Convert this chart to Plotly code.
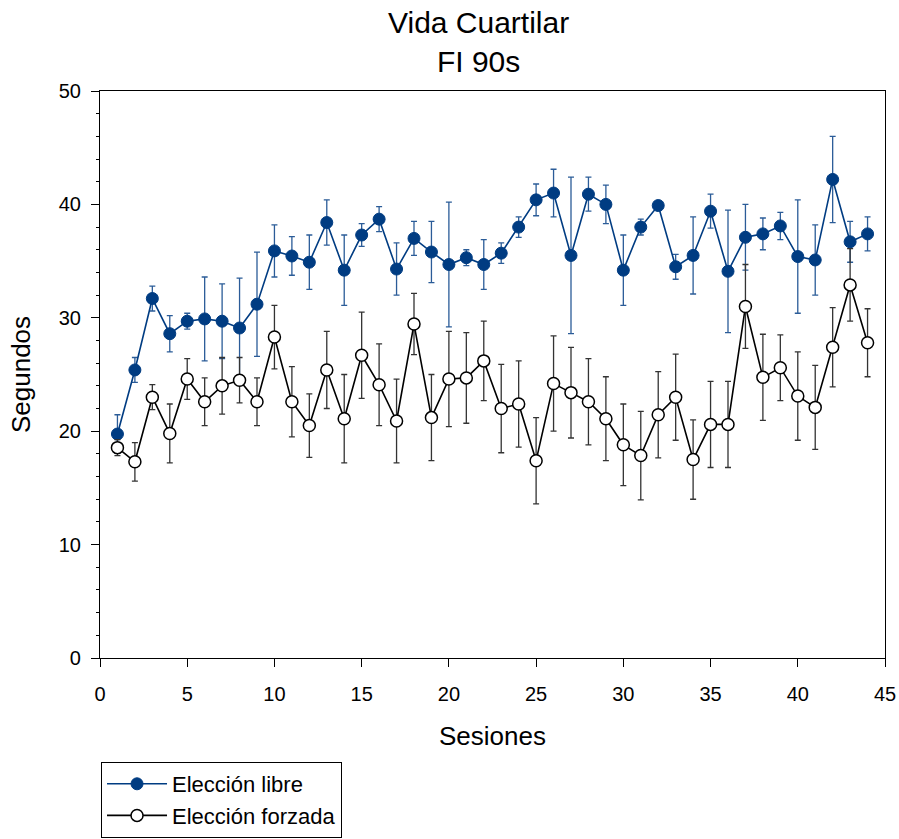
import plotly.graph_objects as go

sesiones = list(range(1, 45))

libre = [19.75, 25.4, 31.7, 28.6, 29.7, 29.9, 29.7, 29.1, 31.2, 35.9,
         35.45, 34.9, 38.4, 34.2, 37.3, 38.7, 34.3, 37.0, 35.8, 34.7,
         35.3, 34.7, 35.7, 38.0, 40.4, 41.0, 35.5, 40.9, 40.0, 34.2,
         38.0, 39.9, 34.5, 35.5, 39.4, 34.1, 37.1, 37.4, 38.1, 35.4,
         35.1, 42.2, 36.7, 37.4]
libre_err = [1.7, 1.1, 1.1, 1.6, 0.7, 3.7, 3.3, 4.4, 4.6, 2.3,
             1.7, 2.4, 2.0, 3.1, 1.0, 1.1, 2.3, 1.5, 2.7, 5.5,
             0.7, 2.2, 0.9, 0.9, 1.4, 2.1, 6.9, 1.5, 1.7, 3.1,
             0.7, 0.3, 1.1, 3.4, 1.5, 5.4, 2.9, 1.4, 1.2, 5.0,
             3.1, 3.8, 1.8, 1.5]

forzada = [18.55, 17.3, 23.0, 19.8, 24.6, 22.6, 24.0, 24.5, 22.6, 28.3,
           22.6, 20.5, 25.4, 21.1, 26.7, 24.1, 20.9, 29.45, 21.2, 24.6,
           24.7, 26.2, 22.0, 22.4, 17.4, 24.2, 23.4, 22.6, 21.1, 18.8,
           17.85, 21.45, 23.0, 17.5, 20.6, 20.6, 31.0, 24.75, 25.6, 23.1,
           22.1, 27.4, 32.9, 27.8]
forzada_err = [0.7, 1.7, 1.1, 2.6, 1.8, 2.1, 2.5, 2.0, 2.1, 2.8,
               3.1, 2.8, 3.4, 3.9, 3.8, 3.6, 3.7, 2.7, 3.8, 4.2,
               4.0, 3.5, 3.9, 3.8, 3.8, 4.2, 4.0, 3.8, 3.7, 3.6,
               3.9, 3.8, 3.8, 3.5, 3.8, 3.8, 3.7, 3.8, 2.9, 3.9,
               3.7, 3.5, 3.2, 3.0]

title_lines = ["Vida Cuartilar", "FI 90s"]

FONT = "Liberation Sans, Arial, sans-serif"
BLUE = "#003c82"

fig = go.Figure()
fig.add_trace(go.Scatter(
    x=sesiones, y=libre, name="Elección libre", mode="lines+markers",
    line=dict(color=BLUE, width=1.6),
    marker=dict(color=BLUE, size=12, line=dict(color=BLUE, width=1)),
    error_y=dict(type="data", array=libre_err, color="#2b5c98", thickness=1.3, width=3),
))
fig.add_trace(go.Scatter(
    x=sesiones, y=forzada, name="Elección forzada", mode="lines+markers",
    line=dict(color="black", width=1.6),
    marker=dict(color="white", size=12, line=dict(color="black", width=1.5)),
    error_y=dict(type="data", array=forzada_err, color="#333333", thickness=1.3, width=3),
))

PLOT_TOP, PLOT_BOTTOM = 91, 658
PH = PLOT_BOTTOM - PLOT_TOP

fig.add_annotation(
    text="<br>".join(title_lines), xref="paper", yref="paper",
    x=(478 - 100) / 785, y=(PLOT_BOTTOM - 4) / PH, xanchor="center", yanchor="top",
    showarrow=False, font=dict(size=30, family=FONT, color="black"),
)

fig.update_layout(
    width=899, height=839,
    margin=dict(l=100, r=14, t=91, b=181, autoexpand=False),
    paper_bgcolor="white", plot_bgcolor="white",
    font=dict(family=FONT, color="black", size=20),
    showlegend=True,
    legend=dict(x=0.0013, y=(PLOT_BOTTOM - 762) / PH, xanchor="left", yanchor="top",
                bordercolor="black", borderwidth=1, bgcolor="white",
                font=dict(size=22, family=FONT, color="black"),
                itemwidth=60, traceorder="normal"),
)
fig.update_xaxes(
    range=[0, 45], tickvals=[0, 5, 10, 15, 20, 25, 30, 35, 40, 45],
    showgrid=False, zeroline=False,
    showline=True, linecolor="black", linewidth=1.2, mirror=True,
    ticks="outside", ticklen=8, tickcolor="black", tickwidth=1.2,
    tickfont=dict(size=20), ticklabelstandoff=10,
    title=dict(text="Sesiones", font=dict(size=26), standoff=22),
)
fig.update_yaxes(
    range=[0, 50], tickvals=[0, 10, 20, 30, 40, 50],
    showgrid=False, zeroline=False,
    showline=True, linecolor="black", linewidth=1.2, mirror=True,
    ticks="outside", ticklen=8, tickcolor="black", tickwidth=1.2,
    tickfont=dict(size=20), ticklabelstandoff=6,
    minor=dict(dtick=2, ticks="outside", ticklen=3, tickcolor="black", tickwidth=1),
    title=dict(text="Segundos", font=dict(size=26), standoff=20),
)

fig.write_html("out.html")
